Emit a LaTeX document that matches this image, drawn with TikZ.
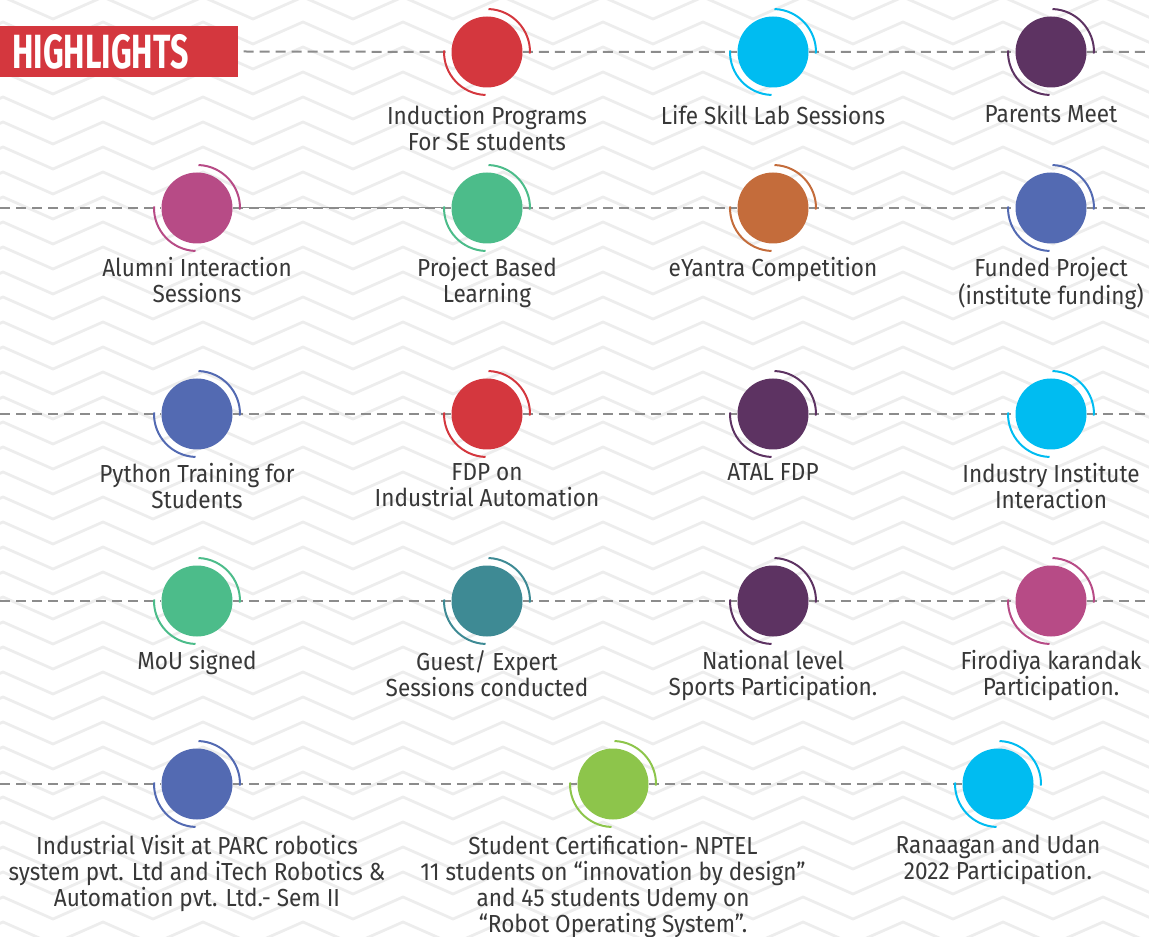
\documentclass[tikz,border=0pt]{standalone}
\usepackage{fontspec}
\setmainfont[FakeStretch=0.915]{Fira Sans}
\newfontfamily\titlefont[FakeStretch=0.67]{Fira Sans}
\usetikzlibrary{positioning}
\definecolor{hred}{HTML}{D4373E}
\definecolor{hcyan}{HTML}{00BCF1}
\definecolor{hplum}{HTML}{5D3362}
\definecolor{hpink}{HTML}{B74B86}
\definecolor{hgreen}{HTML}{4CBC8A}
\definecolor{horange}{HTML}{C46C3B}
\definecolor{hblue}{HTML}{536AB2}
\definecolor{hteal}{HTML}{3E8A94}
\definecolor{hlime}{HTML}{8DC54B}
\definecolor{hline}{HTML}{8C8C8C}
\definecolor{hzig}{HTML}{EDEDED}
\definecolor{htext}{HTML}{383838}

\tikzset{
	dot/.style={circle, fill=#1, minimum size=53.25pt, inner sep=0pt},
	lbl/.style={align=center, inner sep=0pt, text=htext, font=\fontsize{18.5}{19.4}\selectfont},
	track/.style={color=hline, line width=1.5pt, dash pattern=on 7.5pt off 4.5pt},
}
% two open arcs round a dot
\newcommand\swirl[2]{%
	\draw[color=#2, line width=1.5pt] ([shift={(88:32.25pt)}]#1.center) arc[start angle=88, end angle=-2, radius=32.25pt];
	\draw[color=#2, line width=1.5pt] ([shift={(178:32.25pt)}]#1.center) arc[start angle=178, end angle=268, radius=32.25pt];}

\begin{document}
\begin{tikzpicture}[x=0.75pt, y=-0.75pt]
	\useasboundingbox (0,0) rectangle (1149,937);
	% zigzag background
	\begin{scope}
		\clip (0,0) rectangle (1149,937);
		\foreach \j in {-2,...,37}
			\draw[hzig, line width=2.1pt] (-47,{44+25*\j}) \foreach \k in {0,...,11} { -- ({3+100*\k},{22+25*\j}) -- ({53+100*\k},{44+25*\j}) };
	\end{scope}

	\node[fill=hred, anchor=west, minimum height=38.25pt, text width=160.5pt, inner xsep=9pt, inner ysep=0pt, align=left, text=white, font=\titlefont\bfseries\fontsize{36}{36}\selectfont] (title) at (0,51.5) {HIGHLIGHTS};

	% dots
	\node[dot=hred] (c11) at (487,52) {};
	\node[dot=hcyan] (c12) at (773,52) {};
	\node[dot=hplum] (c13) at (1051,52) {};
	\node[dot=hpink] (c21) at (197,208) {};
	\node[dot=hgreen] (c22) at (487,208) {};
	\node[dot=horange] (c23) at (773,208) {};
	\node[dot=hblue] (c24) at (1051,208) {};
	\node[dot=hblue] (c31) at (197,414) {};
	\node[dot=hred] (c32) at (487,414) {};
	\node[dot=hplum] (c33) at (773,414) {};
	\node[dot=hcyan] (c34) at (1051,414) {};
	\node[dot=hgreen] (c41) at (197,601) {};
	\node[dot=hteal] (c42) at (487,601) {};
	\node[dot=hplum] (c43) at (773,601) {};
	\node[dot=hpink] (c44) at (1051,601) {};
	\node[dot=hblue] (c51) at (197,784) {};
	\node[dot=hlime] (c52) at (613,784) {};
	\node[dot=hcyan] (c53) at (998,784) {};

	\coordinate (e1) at (1149,52);
	\coordinate (w2) at (0,208);
	\coordinate (e2) at (1149,208);
	\coordinate (w3) at (0,414);
	\coordinate (e3) at (1149,414);
	\coordinate (w4) at (0,601);
	\coordinate (e4) at (1149,601);
	\coordinate (w5) at (0,784);

	% dashed tracks
	\draw[track] ([xshift=3.75pt]title.east) -- (c11) -- (c12) -- (c13) -- (e1);
	\draw[track] (w2) -- (c21) -- (c22) -- (c23) -- (c24) -- (e2);
	\draw[color=hline, line width=0.75pt] (c21) -- (c22);
	\draw[track] (w3) -- (c31) -- (c32) -- (c33) -- (c34) -- (e3);
	\draw[track] (w4) -- (c41) -- (c42) -- (c43) -- (c44) -- (e4);
	\draw[track] (w5) -- (c51) -- (c52) -- (c53);

	\swirl{c11}{hred}
	\swirl{c12}{hcyan}
	\swirl{c13}{hplum}
	\swirl{c21}{hpink}
	\swirl{c22}{hgreen}
	\swirl{c23}{horange}
	\swirl{c24}{hblue}
	\swirl{c31}{hblue}
	\swirl{c32}{hred}
	\swirl{c33}{hplum}
	\swirl{c34}{hcyan}
	\swirl{c41}{hgreen}
	\swirl{c42}{hteal}
	\swirl{c43}{hplum}
	\swirl{c44}{hpink}
	\swirl{c51}{hblue}
	\swirl{c52}{hlime}
	\swirl{c53}{hcyan}

	% labels
	\node[lbl, below=13pt of c11] (l11) {Induction Programs\\For SE students};
	\node[lbl, below=13pt of c12] (l12) {Life Skill Lab Sessions};
	\node[lbl, below=13pt of c13] (l13) {Parents Meet};
	\node[lbl, below=10pt of c21] (l21) {Alumni Interaction\\Sessions};
	\node[lbl, below=10pt of c22] (l22) {Project Based\\Learning};
	\node[lbl, below=10pt of c23] (l23) {eYantra Competition};
	\node[lbl, below=10pt of c24] (l24) {Funded Project\\(institute funding)};
	\node[lbl, below=10pt of c31] (l31) {Python Training for\\Students};
	\node[lbl, below=10pt of c32] (l32) {FDP on\\Industrial Automation};
	\node[lbl, below=10pt of c33] (l33) {ATAL FDP};
	\node[lbl, below=10pt of c34] (l34) {Industry Institute\\Interaction};
	\node[lbl, below=10pt of c41] (l41) {MoU signed};
	\node[lbl, below=10pt of c42] (l42) {Guest/ Expert\\Sessions conducted};
	\node[lbl, below=10pt of c43] (l43) {National level\\Sports Participation.};
	\node[lbl, below=10pt of c44] (l44) {Firodiya karandak\\Participation.};
	\node[lbl, below=11.5pt of c51] (l51) {Industrial Visit at PARC robotics\\system pvt. Ltd and iTech Robotics \&\\Automation pvt. Ltd.- Sem II};
	\node[lbl, below=11.5pt of c52] (l52) {Student Certification- NPTEL\\11 students on “innovation by design”\\and 45 students Udemy on\\“Robot Operating System”.};
	\node[lbl, below=11.5pt of c53] (l53) {Ranaagan and Udan\\2022 Participation.};
\end{tikzpicture}
\end{document}
